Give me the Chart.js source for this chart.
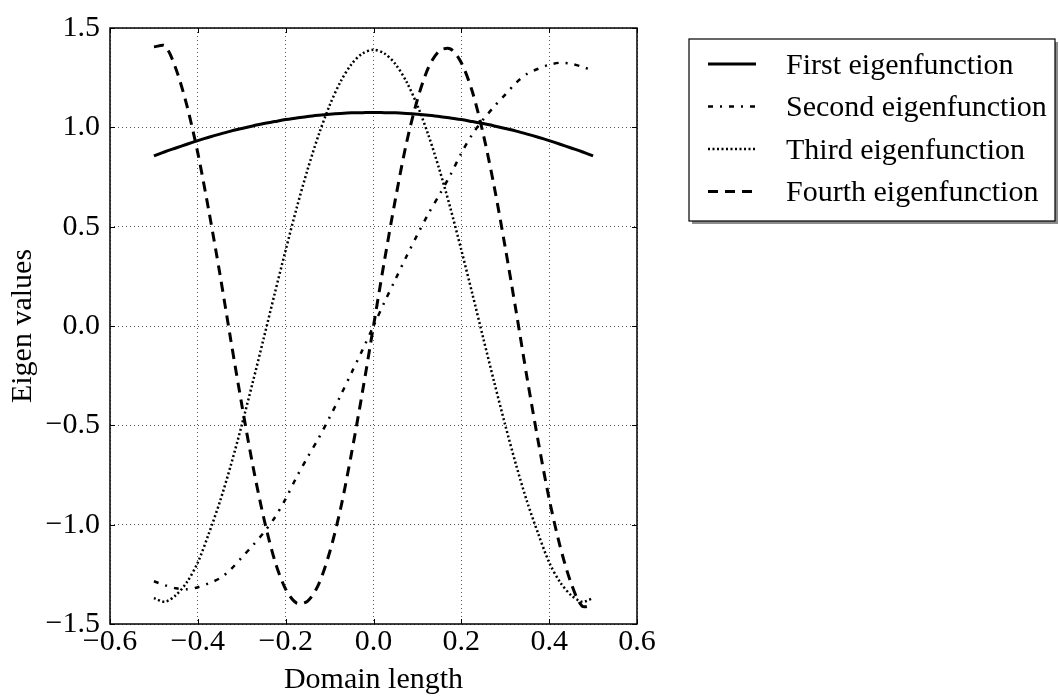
<!DOCTYPE html>
<html>
<head>
<meta charset="utf-8">
<title>Eigenfunctions</title>
<script src="https://cdn.jsdelivr.net/npm/chart.js@4"></script>
<style>
  html, body { margin: 0; padding: 0; background: #fff; }
</style>
</head>
<body>
<canvas id="eigenChart" width="1059" height="700"></canvas>
<script>
// domain points (x) and values
const domain = [-0.5, -0.475, -0.45, -0.425, -0.4, -0.375, -0.35, -0.325, -0.3, -0.275,
  -0.25, -0.225, -0.2, -0.175, -0.15, -0.125, -0.1, -0.075, -0.05, -0.025, 0,
  0.025, 0.05, 0.075, 0.1, 0.125, 0.15, 0.175, 0.2, 0.225, 0.25,
  0.275, 0.3, 0.325, 0.35, 0.375, 0.4, 0.425, 0.45, 0.475, 0.5];

const firstEigen = [0.856, 0.877, 0.896, 0.915, 0.933, 0.950, 0.966, 0.981, 0.994, 1.007,
  1.019, 1.029, 1.039, 1.047, 1.055, 1.061, 1.066, 1.070, 1.073, 1.074, 1.075,
  1.074, 1.073, 1.070, 1.066, 1.061, 1.055, 1.047, 1.039, 1.029, 1.019,
  1.007, 0.994, 0.981, 0.966, 0.950, 0.933, 0.915, 0.896, 0.877, 0.856];

const secondEigen = [-1.285, -1.305, -1.32, -1.325, -1.315, -1.295, -1.27, -1.225, -1.165, -1.105,
  -1.04, -0.965, -0.87, -0.76, -0.66, -0.565, -0.46, -0.35, -0.235, -0.12, 0,
  0.12, 0.235, 0.35, 0.46, 0.565, 0.66, 0.76, 0.87, 0.965, 1.04,
  1.105, 1.165, 1.225, 1.27, 1.295, 1.315, 1.325, 1.32, 1.305, 1.285];

const thirdEigen = [-1.37, -1.388, -1.355, -1.29, -1.19, -1.045, -0.886, -0.702, -0.499, -0.284,
  -0.062, 0.163, 0.382, 0.594, 0.788, 0.961, 1.11, 1.23, 1.318, 1.372, 1.39,
  1.372, 1.318, 1.23, 1.11, 0.961, 0.788, 0.594, 0.382, 0.163, -0.062,
  -0.284, -0.499, -0.702, -0.886, -1.045, -1.19, -1.29, -1.355, -1.388, -1.37];

const fourthEigen = [1.405, 1.41, 1.295, 1.11, 0.87, 0.58, 0.265, -0.07, -0.395, -0.70,
  -0.965, -1.18, -1.325, -1.395, -1.385, -1.30, -1.14, -0.92, -0.64, -0.33, 0,
  0.33, 0.64, 0.92, 1.14, 1.30, 1.385, 1.395, 1.325, 1.18, 0.965,
  0.70, 0.395, 0.07, -0.265, -0.58, -0.87, -1.11, -1.295, -1.41, -1.405];

const xTicks = [-0.6, -0.4, -0.2, 0.0, 0.2, 0.4, 0.6];
const yTicks = [-1.5, -1.0, -0.5, 0.0, 0.5, 1.0, 1.5];

const serif = "'Liberation Serif', 'Times New Roman', serif";

function pts(ys) {
  return domain.map((x, i) => ({ x: x, y: ys[i] }));
}

function fmt(v) {
  return (v < 0 ? "\u2212" : "") + Math.abs(v).toFixed(1);
}

// frame, inward ticks and boxed legend (matplotlib look)
const framePlugin = {
  id: "frame",
  afterDraw(chart) {
    const { ctx, chartArea: a, scales } = chart;
    ctx.save();
    ctx.strokeStyle = "#000";
    ctx.lineWidth = 1;
    ctx.setLineDash([]);
    ctx.beginPath();
    xTicks.forEach((v) => {
      const px = Math.round(scales.x.getPixelForValue(v)) + 0.5;
      ctx.moveTo(px, a.bottom); ctx.lineTo(px, a.bottom - 5);
      ctx.moveTo(px, a.top); ctx.lineTo(px, a.top + 5);
    });
    yTicks.forEach((v) => {
      const py = Math.round(scales.y.getPixelForValue(v)) + 0.5;
      ctx.moveTo(a.left, py); ctx.lineTo(a.left + 5, py);
      ctx.moveTo(a.right, py); ctx.lineTo(a.right - 5, py);
    });
    ctx.stroke();

    ctx.lineWidth = 1.5;
    ctx.strokeRect(a.left, a.top, a.right - a.left, a.bottom - a.top);

    // legend
    const lx = 689, ly = 39, lw = 366, lh = 182;
    ctx.fillStyle = "#8c8c8c";
    ctx.fillRect(lx + 3, ly + 3, lw, lh);
    ctx.fillStyle = "#fff";
    ctx.fillRect(lx, ly, lw, lh);
    ctx.lineWidth = 1.2;
    ctx.strokeStyle = "#000";
    ctx.strokeRect(lx, ly, lw, lh);

    ctx.font = "30px " + serif;
    ctx.textBaseline = "middle";
    ctx.textAlign = "left";
    chart.data.datasets.forEach((ds, i) => {
      const y = 64 + i * 42.5;
      ctx.save();
      ctx.strokeStyle = "#000";
      ctx.lineWidth = ds.borderWidth;
      ctx.setLineDash(ds.borderDash || []);
      ctx.beginPath();
      ctx.moveTo(708, y);
      ctx.lineTo(756, y);
      ctx.stroke();
      ctx.restore();
      ctx.fillStyle = "#000";
      ctx.fillText(ds.label, 786, y + 2);
    });
    ctx.restore();
  }
};

const ctx = document.getElementById("eigenChart").getContext("2d");
new Chart(ctx, {
  type: "scatter",
  data: {
    datasets: [
      {
        label: "First eigenfunction",
        data: pts(firstEigen),
        borderColor: "#000",
        borderWidth: 3,
        borderDash: [],
      },
      {
        label: "Second eigenfunction",
        data: pts(secondEigen),
        borderColor: "#000",
        borderWidth: 2.5,
        borderDash: [5, 7, 2, 7],
      },
      {
        label: "Third eigenfunction",
        data: pts(thirdEigen),
        borderColor: "#000",
        borderWidth: 2.5,
        borderDash: [2, 2.5],
      },
      {
        label: "Fourth eigenfunction",
        data: pts(fourthEigen),
        borderColor: "#000",
        borderWidth: 3,
        borderDash: [10, 7],
      },
    ],
  },
  options: {
    responsive: false,
    animation: false,
    showLine: true,
    elements: {
      point: { radius: 0, hoverRadius: 0 },
      line: { tension: 0.3, fill: false },
    },
    layout: { padding: { top: 24, right: 422, bottom: 0, left: 0 } },
    plugins: {
      legend: { display: false },
      tooltip: { enabled: false },
    },
    scales: {
      x: {
        type: "linear",
        min: -0.6,
        max: 0.6,
        afterBuildTicks: (scale) => { scale.ticks = xTicks.map((v) => ({ value: v })); },
        afterFit: (scale) => { scale.height = 76; },
        grid: { color: "#555", lineWidth: 1, drawTicks: false },
        border: { display: false, dash: [1, 3] },
        ticks: {
          color: "#000",
          padding: 0,
          maxRotation: 0,
          font: { family: serif, size: 30 },
          callback: (v) => fmt(v),
        },
        title: {
          display: true,
          text: "Domain length",
          color: "#000",
          font: { family: serif, size: 30 },
          padding: { top: 0, bottom: 2 },
        },
      },
      y: {
        type: "linear",
        min: -1.5,
        max: 1.5,
        afterBuildTicks: (scale) => { scale.ticks = yTicks.map((v) => ({ value: v })); },
        afterFit: (scale) => { scale.width = 110; },
        grid: { color: "#555", lineWidth: 1, drawTicks: false },
        border: { display: false, dash: [1, 3] },
        ticks: {
          color: "#000",
          padding: 10,
          font: { family: serif, size: 30 },
          callback: (v) => fmt(v),
        },
        title: {
          display: true,
          text: "Eigen values",
          color: "#000",
          font: { family: serif, size: 30 },
          padding: { top: 5, bottom: 0 },
        },
      },
    },
  },
  plugins: [framePlugin],
});
</script>
</body>
</html>
